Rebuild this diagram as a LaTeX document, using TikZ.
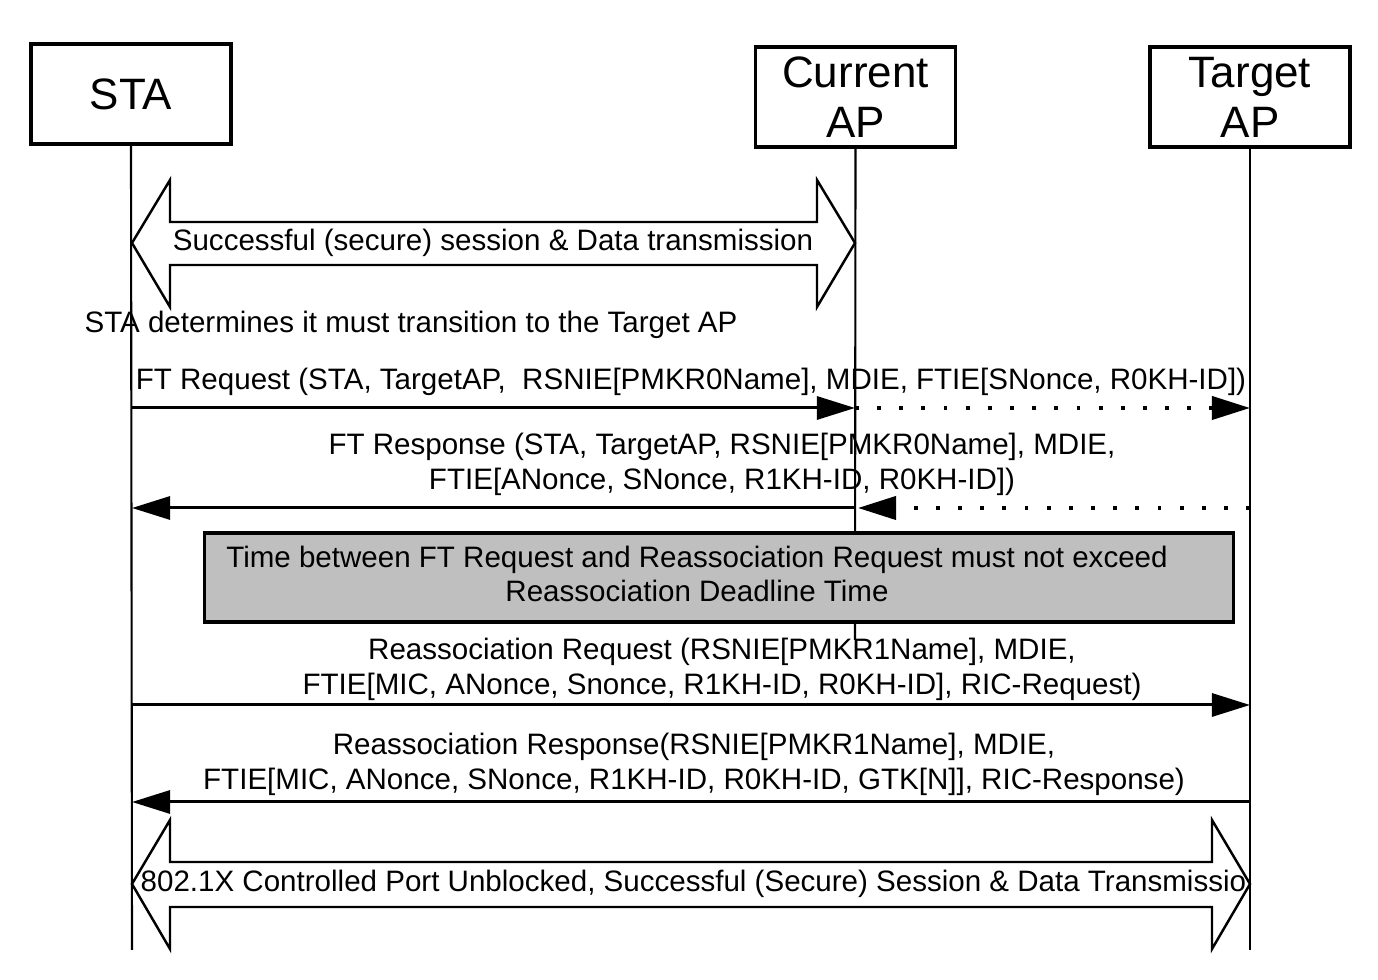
\documentclass[tikz,border=0pt]{standalone}
\usepackage{fontspec}
\setmainfont{Liberation Sans}
\usetikzlibrary{arrows.meta,calc}

\begin{document}
\begin{tikzpicture}[x=0.01cm, y=-0.01cm,
    actor/.style={draw=black, line width=0.9pt, fill=white, minimum width=2.0cm,
        minimum height=1.0cm, inner sep=0pt, align=center,
        font=\fontsize{12.5}{14.2}\selectfont},
    lifeline/.style={line width=0.6pt},
    msg/.style={line width=0.85pt, -{Triangle[length=0.38cm,width=0.23cm]}},
    dotmsg/.style={msg, line width=1.1pt, dash pattern=on 1.1pt off 5.2pt},
    block/.style={draw=black, fill=white, line width=0.7pt, line join=miter},
    lbl/.style={align=center, inner sep=0pt, font=\fontsize{8.4}{10}\selectfont},
    note/.style={draw=black, fill=black!25, line width=0.9pt,
        minimum width=10.28cm, minimum height=0.89cm, inner sep=0pt}
]
    \useasboundingbox (0,0) rectangle (1378,980);

    % participants
    \node[actor] (sta) at (131,94) {STA};
    \node[actor] (cur) at (855.5,97) {Current\\AP};
    \node[actor] (tgt) at (1250,97) {Target\\AP};

    \foreach \r/\y in {A/243, B/408, C/508, D/705, E/802, F/884} {
        \coordinate (sta\r) at (132,\y);
        \coordinate (cur\r) at (855,\y);
        \coordinate (tgt\r) at (1250,\y);
    }
    \coordinate (staEnd) at (132,950);
    \coordinate (curEnd) at (855,640);
    \coordinate (tgtEnd) at (1250,950);

    \draw[lifeline] (sta.south) -- (staEnd);
    \draw[lifeline] (cur.south) -- (curEnd);
    \draw[lifeline] (tgt.south) -- (tgtEnd);

    % session with current AP
    \draw[block] (staA) -- ++(38,-63) -- ++(0,42) -- ($(curA)+(-38,-21)$)
        -- ++(0,-42) -- (curA) -- ++(-38,64) -- ++(0,-42)
        -- ($(staA)+(38,22)$) -- ++(0,42) -- cycle;
    \node[lbl] (sess) at (493,243) {Successful (secure) session \& Data transmission};

    \node[lbl] (decide) at (411,325) {STA determines it must transition to the Target AP};

    % FT request / response
    \node[lbl] (ftreq) at (691,382)
        {FT Request (STA, TargetAP, \ RSNIE[PMKR0Name], MDIE, FTIE[SNonce, R0KH-ID])};
    \draw[msg] (staB) -- (curB);
    \draw[dotmsg] (curB) -- (tgtB);

    \node[lbl] (ftresp) at (722,464)
        {FT Response (STA, TargetAP, RSNIE[PMKR0Name], MDIE,\\
         FTIE[ANonce, SNonce, R1KH-ID, R0KH-ID])};
    \draw[dotmsg] (tgtC) -- ($(curC)+(3,0)$);
    \draw[msg] (curC) -- (staC);

    % deadline
    \node[note] (gap) at (719,577.5) {};
    \node[lbl, font=\fontsize{8.4}{9.7}\selectfont] (gaptxt) at (697,574)
        {Time between FT Request and Reassociation Request must not exceed\\
         Reassociation Deadline Time};

    % reassociation
    \node[lbl] (rareq) at (722,669)
        {Reassociation Request (RSNIE[PMKR1Name], MDIE,\\
         FTIE[MIC, ANonce, Snonce, R1KH-ID, R0KH-ID], RIC-Request)};
    \draw[msg] (staD) -- (tgtD);

    \node[lbl] (raresp) at (694,764)
        {Reassociation Response(RSNIE[PMKR1Name], MDIE,\\
         FTIE[MIC, ANonce, SNonce, R1KH-ID, R0KH-ID, GTK[N]], RIC-Response)};
    \draw[msg] (tgtE) -- (staE);

    % session with target AP
    \draw[block] (staF) -- ++(38,-64) -- ++(0,42) -- ($(tgtF)+(-38,-22)$)
        -- ++(0,-42) -- (tgtF) -- ++(-38,65) -- ++(0,-42)
        -- ($(staF)+(38,23)$) -- ++(0,42) -- cycle;
    \begin{scope}
        \clip (132,860) rectangle (1247,910);
        \node[lbl, anchor=west] (port) at (140,884)
            {802.1X Controlled Port Unblocked, Successful (Secure) Session \& Data Transmission};
    \end{scope}
\end{tikzpicture}
\end{document}
